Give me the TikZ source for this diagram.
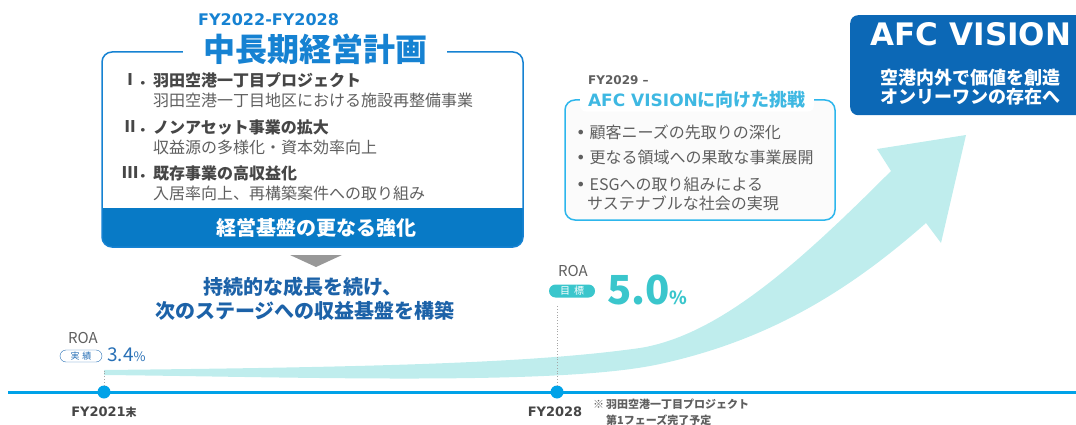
\documentclass[tikz,border=0pt]{standalone}
\usepackage{fontspec}
\setmainfont{Noto Sans CJK JP}
\newfontfamily\latfont{DejaVu Sans}
\usetikzlibrary{calc}

\definecolor{PlanBlue}{RGB}{22,130,210}
\definecolor{PlanBar}{RGB}{8,122,198}
\definecolor{VisionBlue}{RGB}{12,104,182}
\definecolor{HeadBlue}{RGB}{28,98,168}
\definecolor{TealMark}{RGB}{58,198,204}
\definecolor{LineBlue}{RGB}{0,162,232}
\definecolor{SkyLine}{RGB}{45,182,236}
\definecolor{SkyText}{RGB}{62,184,226}
\definecolor{BandTeal}{RGB}{191,237,237}
\definecolor{DarkText}{RGB}{70,70,70}
\definecolor{SoftText}{RGB}{95,95,95}
\definecolor{RoaBlue}{RGB}{40,112,182}

\newcommand{\pxfont}[1]{\fontsize{#1}{#1}\selectfont}

\begin{document}
\begin{tikzpicture}[x=1pt, y=-1pt,
    head/.style={font=\bfseries\pxfont{16}, text=DarkText, anchor=west, inner sep=0pt},
    sub/.style={font=\pxfont{16}, text=SoftText, anchor=west, inner sep=0pt},
    bullet/.style={font=\pxfont{16}, text=SoftText, anchor=west, inner sep=0pt},
    fylabel/.style={font=\latfont\bfseries\pxfont{13}, text=DarkText, inner sep=0pt},
    roalabel/.style={font=\pxfont{15}, text=SoftText, inner sep=0pt},
    tick/.style={circle, fill=LineBlue, minimum size=13pt, inner sep=0pt},
    guide/.style={draw=gray!70, dotted, line width=0.8pt}]

    \useasboundingbox (0,0) rectangle (1076,425);
    \clip (0,0) rectangle (1076,425);

    % ---------- Growth arrow

    \fill[BandTeal]
    (104,370) .. controls (400,367) and (540,362) .. (640,348)
    .. controls (720,335) and (800,262) .. (891,171)
    -- (877,149) -- (966,135) -- (941,243) -- (926,223)
    .. controls (850,290) and (770,340) .. (660,364)
    .. controls (560,386) and (300,377) .. (104,375) -- cycle;

    % ---------- Timeline

    \coordinate (lineStart) at (8,392);
    \coordinate (lineEnd) at (1076,392);
    \draw[LineBlue, line width=3pt] (lineStart) -- (lineEnd);

    \node[tick] (tickNow) at (104,392) {};
    \node[tick] (tickPlan) at (557,392) {};

    \coordinate (guideNowTop) at (104,369);
    \coordinate (guidePlanTop) at (557,306);
    \draw[guide] (tickNow.north) -- (guideNowTop);
    \draw[guide] (tickPlan.north) -- (guidePlanTop);

    \node[fylabel] (fyNow) at (104,412) {FY2021{\normalfont\bfseries\pxfont{11}末}};
    \node[fylabel] (fyPlan) at (555,412) {FY2028};
    \node[font=\bfseries\pxfont{11}, text=SoftText, anchor=west, inner sep=0pt] (noteOne) at (593,404) {※\hspace{2pt}羽田空港一丁目プロジェクト};
    \node[font=\bfseries\pxfont{11}, text=SoftText, anchor=west, inner sep=0pt] (noteTwo) at (606,420) {第1フェーズ完了予定};

    % Show ROA values
    \node[roalabel] (roaNow) at (83,338) {ROA};
    \node[draw=RoaBlue, rounded corners=6pt, minimum width=42pt, minimum height=12pt, inner sep=0pt,
        font=\pxfont{9}, text=RoaBlue] (pillNow) at (81,356) {実\hspace{3pt}績};
    \node[anchor=base west, inner sep=0pt, font=\pxfont{19}, text=RoaBlue] (valNow) at (107,361) {3.4{\pxfont{13}\%}};

    \node[roalabel] (roaPlan) at (573,271) {ROA};
    \node[fill=TealMark, rounded corners=6.5pt, minimum width=46pt, minimum height=13pt, inner sep=0pt,
        font=\pxfont{10}, text=white] (pillPlan) at (572,291) {目\hspace{4pt}標};
    \node[anchor=base west, inner sep=0pt, font=\bfseries\pxfont{40}, text=TealMark] (valPlan) at (607,304) {5.0{\pxfont{18}\%}};

    % ---------- Mid-term plan

    \begin{scope}
        \clip[rounded corners=10pt] (102,52) rectangle (523,247);
        \fill[PlanBar] (102,208) rectangle (523,247);
    \end{scope}
    \draw[PlanBlue, line width=1.5pt, rounded corners=10pt] (102,52) rectangle (523,247);

    \node[fill=white, inner xsep=20pt, inner ysep=2pt, font=\bfseries\pxfont{32}, text=PlanBlue] (planTitle) at (315,49) {中長期経営計画};
    \node[anchor=west, inner sep=0pt, font=\latfont\bfseries\pxfont{16}, text=PlanBlue] (planYears) at (198,20) {FY2022-FY2028};

    \node[head] (numOne) at (122,80) {Ⅰ．};
    \node[head] (headOne) at (153,80) {羽田空港一丁目プロジェクト};
    \node[sub] (subOne) at (153,100) {羽田空港一丁目地区における施設再整備事業};
    \node[head] (numTwo) at (122,127) {Ⅱ．};
    \node[head] (headTwo) at (153,127) {ノンアセット事業の拡大};
    \node[sub] (subTwo) at (153,147) {収益源の多様化・資本効率向上};
    \node[head] (numThree) at (122,173) {Ⅲ．};
    \node[head] (headThree) at (153,173) {既存事業の高収益化};
    \node[sub] (subThree) at (153,193) {入居率向上、再構築案件への取り組み};

    \node[font=\bfseries\pxfont{20}, text=white] (planBar) at (316,228) {経営基盤の更なる強化};

    % Show outcome
    \fill[gray!85!black!70] (290,255) -- (342,255) -- (316,267) -- cycle;
    \node[font=\bfseries\pxfont{20}, text=HeadBlue] (growthOne) at (303,287) {持続的な成長を続け、};
    \node[font=\bfseries\pxfont{20}, text=HeadBlue] (growthTwo) at (305,311) {次のステージへの収益基盤を構築};

    % ---------- Challenge towards the vision

    \draw[SkyLine, line width=1.5pt, fill=gray!3, rounded corners=10pt] (565,100) rectangle (835,220);
    \node[fill=white, rounded corners=6pt, inner xsep=8pt, inner ysep=3pt, font=\bfseries\pxfont{18}, text=SkyText]
        (challengeTitle) at (697,100) {{\latfont\pxfont{17}AFC VISION}に向けた挑戦};
    \node[anchor=west, inner sep=0pt, font=\latfont\bfseries\pxfont{12}, text=SoftText] (challengeYears) at (588,80) {FY2029 –};

    \node[bullet] (pointOne) at (576,132) {{\latfont •}\hspace{4pt}顧客ニーズの先取りの深化};
    \node[bullet] (pointTwo) at (576,157) {{\latfont •}\hspace{4pt}更なる領域への果敢な事業展開};
    \node[bullet] (pointThree) at (576,184) {{\latfont •}\hspace{4pt}ESGへの取り組みによる};
    \node[bullet] (pointThreeCont) at (587,203) {サステナブルな社会の実現};

    % ---------- AFC VISION

    \node[fill=VisionBlue, rounded corners=8pt, minimum width=250pt, minimum height=100pt, anchor=north west] (visionBox) at (850,15) {};
    \node[font=\latfont\bfseries\pxfont{31}, text=white] (visionName) at (971,34) {AFC VISION};
    \node[font=\bfseries\pxfont{18}, text=white] (visionOne) at (970,78) {空港内外で価値を創造};
    \node[font=\bfseries\pxfont{18}, text=white] (visionTwo) at (970,97) {オンリーワンの存在へ};

\end{tikzpicture}
\end{document}
